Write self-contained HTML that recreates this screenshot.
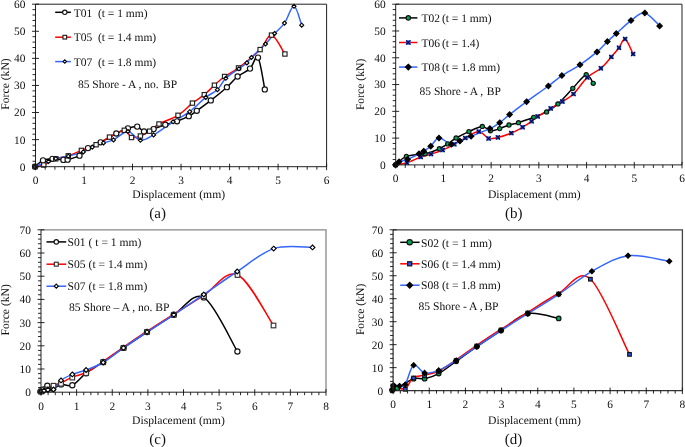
<!DOCTYPE html>
<html><head><meta charset="utf-8"><title>Force-displacement curves</title>
<style>html,body{margin:0;padding:0;background:#fff;width:685px;height:447px;overflow:hidden}svg{display:block;will-change:transform}text{font-family:"Liberation Serif",serif;text-rendering:geometricPrecision}</style>
</head><body>
<svg width="685" height="447" viewBox="0 0 685 447" font-family='"Liberation Serif", serif' fill="#111">
<rect width="685" height="447" fill="#fff"/>
<g>
<path d="M35.1,166.6 C36.42,165.57 40.1,161.7 43,160.4 C45.9,159.1 49.1,158.88 52.5,158.8 C55.9,158.72 60.88,159.75 63.4,159.9 C65.92,160.05 64.92,160.4 67.6,159.7 C70.28,159 76.1,157.63 79.5,155.7 C82.9,153.77 84.48,150.33 88,148.1 C91.52,145.87 95.88,144.73 100.6,142.3 C105.32,139.87 111.75,135.83 116.3,133.5 C120.85,131.17 124.42,129.45 127.9,128.3 C131.38,127.15 134.52,126.07 137.2,126.6 C139.88,127.13 141.27,131.08 144,131.5 C146.73,131.92 150.05,130.23 153.6,129.1 C157.15,127.97 161.4,126 165.3,124.7 C169.2,123.4 173.08,122.72 177,121.3 C180.92,119.88 185.5,117.95 188.8,116.2 C192.1,114.45 193.13,113.43 196.8,110.8 C200.47,108.17 205.78,104.33 210.8,100.4 C215.82,96.47 222.43,91.18 226.9,87.2 C231.37,83.22 233.75,79.6 237.6,76.5 C241.45,73.4 246.6,71.75 250,68.6 C253.4,65.45 255.53,54.13 258,57.6 C260.47,61.07 263.67,84.1 264.8,89.4" fill="none" stroke="#000000" stroke-width="1.5" stroke-linejoin="round" stroke-linecap="round"/>
<path d="M35.1,166.6 C36.55,166.33 40.35,166.3 43.8,165 C47.25,163.7 51.72,160.33 55.8,158.8 C59.88,157.27 64.03,157.2 68.3,155.8 C72.57,154.4 76.77,152.25 81.4,150.4 C86.03,148.55 91.42,146.92 96.1,144.7 C100.78,142.48 104.8,139.5 109.5,137.1 C114.2,134.7 120.63,130.23 124.3,130.3 C127.97,130.37 128.82,136.55 131.5,137.5 C134.18,138.45 137.38,137.05 140.4,136 C143.42,134.95 146.5,133.2 149.6,131.2 C152.7,129.2 154.27,126.65 159,124 C163.73,121.35 172.43,118.78 178,115.3 C183.57,111.82 188.02,106.53 192.4,103.1 C196.78,99.67 200.63,97.68 204.3,94.7 C207.97,91.72 211.02,88.23 214.4,85.2 C217.78,82.17 220.58,79.38 224.6,76.5 C228.62,73.62 232.58,72.38 238.5,67.9 C244.42,63.42 254.6,55.07 260.1,49.6 C265.6,44.13 267.37,34.37 271.5,35.1 C275.63,35.83 282.67,50.85 284.9,54" fill="none" stroke="#ff0000" stroke-width="1.5" stroke-linejoin="round" stroke-linecap="round"/>
<path d="M35.1,166.6 C37.33,165.73 45.05,162.73 48.5,161.4 C51.95,160.07 52.5,159.47 55.8,158.6 C59.1,157.73 63.72,157.32 68.3,156.2 C72.88,155.08 79.3,153.42 83.3,151.9 C87.3,150.38 88.93,148.6 92.3,147.1 C95.67,145.6 99.97,144.1 103.5,142.9 C107.03,141.7 109.43,141.8 113.5,139.9 C117.57,138 123.42,131.43 127.9,131.5 C132.38,131.57 136.12,139.73 140.4,140.3 C144.68,140.87 148.15,137.98 153.6,134.9 C159.05,131.82 167.08,125.67 173.1,121.8 C179.12,117.93 184.25,115.77 189.7,111.7 C195.15,107.63 201.18,101.07 205.8,97.4 C210.42,93.73 214.07,92.88 217.4,89.7 C220.73,86.52 222.22,81.78 225.8,78.3 C229.38,74.82 235.38,71.37 238.9,68.8 C242.42,66.23 244.82,64.78 246.9,62.9 C248.98,61.02 248.3,60.65 251.4,57.5 C254.5,54.35 261.63,48 265.5,44 C269.37,40 271.43,36.98 274.6,33.5 C277.77,30.02 281.27,27.63 284.5,23.1 C287.73,18.57 291.13,5.95 294,6.3 C296.87,6.65 300.42,22.05 301.7,25.2" fill="none" stroke="#3366ff" stroke-width="1.5" stroke-linejoin="round" stroke-linecap="round"/>
<circle cx="35.1" cy="166.6" r="2.6" fill="#fff" stroke="#111" stroke-width="1.15"/>
<circle cx="43" cy="160.4" r="2.6" fill="#fff" stroke="#111" stroke-width="1.15"/>
<circle cx="52.5" cy="158.8" r="2.6" fill="#fff" stroke="#111" stroke-width="1.15"/>
<circle cx="63.4" cy="159.9" r="2.6" fill="#fff" stroke="#111" stroke-width="1.15"/>
<circle cx="67.6" cy="159.7" r="2.6" fill="#fff" stroke="#111" stroke-width="1.15"/>
<circle cx="79.5" cy="155.7" r="2.6" fill="#fff" stroke="#111" stroke-width="1.15"/>
<circle cx="88" cy="148.1" r="2.6" fill="#fff" stroke="#111" stroke-width="1.15"/>
<circle cx="100.6" cy="142.3" r="2.6" fill="#fff" stroke="#111" stroke-width="1.15"/>
<circle cx="116.3" cy="133.5" r="2.6" fill="#fff" stroke="#111" stroke-width="1.15"/>
<circle cx="127.9" cy="128.3" r="2.6" fill="#fff" stroke="#111" stroke-width="1.15"/>
<circle cx="137.2" cy="126.6" r="2.6" fill="#fff" stroke="#111" stroke-width="1.15"/>
<circle cx="144" cy="131.5" r="2.6" fill="#fff" stroke="#111" stroke-width="1.15"/>
<circle cx="153.6" cy="129.1" r="2.6" fill="#fff" stroke="#111" stroke-width="1.15"/>
<circle cx="165.3" cy="124.7" r="2.6" fill="#fff" stroke="#111" stroke-width="1.15"/>
<circle cx="177" cy="121.3" r="2.6" fill="#fff" stroke="#111" stroke-width="1.15"/>
<circle cx="188.8" cy="116.2" r="2.6" fill="#fff" stroke="#111" stroke-width="1.15"/>
<circle cx="196.8" cy="110.8" r="2.6" fill="#fff" stroke="#111" stroke-width="1.15"/>
<circle cx="210.8" cy="100.4" r="2.6" fill="#fff" stroke="#111" stroke-width="1.15"/>
<circle cx="226.9" cy="87.2" r="2.6" fill="#fff" stroke="#111" stroke-width="1.15"/>
<circle cx="237.6" cy="76.5" r="2.6" fill="#fff" stroke="#111" stroke-width="1.15"/>
<circle cx="250" cy="68.6" r="2.6" fill="#fff" stroke="#111" stroke-width="1.15"/>
<circle cx="258" cy="57.6" r="2.6" fill="#fff" stroke="#111" stroke-width="1.15"/>
<circle cx="264.8" cy="89.4" r="2.6" fill="#fff" stroke="#111" stroke-width="1.15"/>
<rect x="32.95" y="164.45" width="4.3" height="4.3" fill="#fff" stroke="#222" stroke-width="1.15"/>
<rect x="41.65" y="162.85" width="4.3" height="4.3" fill="#fff" stroke="#222" stroke-width="1.15"/>
<rect x="53.65" y="156.65" width="4.3" height="4.3" fill="#fff" stroke="#222" stroke-width="1.15"/>
<rect x="66.15" y="153.65" width="4.3" height="4.3" fill="#fff" stroke="#222" stroke-width="1.15"/>
<rect x="79.25" y="148.25" width="4.3" height="4.3" fill="#fff" stroke="#222" stroke-width="1.15"/>
<rect x="93.95" y="142.55" width="4.3" height="4.3" fill="#fff" stroke="#222" stroke-width="1.15"/>
<rect x="107.35" y="134.95" width="4.3" height="4.3" fill="#fff" stroke="#222" stroke-width="1.15"/>
<rect x="122.15" y="128.15" width="4.3" height="4.3" fill="#fff" stroke="#222" stroke-width="1.15"/>
<rect x="129.35" y="135.35" width="4.3" height="4.3" fill="#fff" stroke="#222" stroke-width="1.15"/>
<rect x="138.25" y="133.85" width="4.3" height="4.3" fill="#fff" stroke="#222" stroke-width="1.15"/>
<rect x="147.45" y="129.05" width="4.3" height="4.3" fill="#fff" stroke="#222" stroke-width="1.15"/>
<rect x="156.85" y="121.85" width="4.3" height="4.3" fill="#fff" stroke="#222" stroke-width="1.15"/>
<rect x="175.85" y="113.15" width="4.3" height="4.3" fill="#fff" stroke="#222" stroke-width="1.15"/>
<rect x="190.25" y="100.95" width="4.3" height="4.3" fill="#fff" stroke="#222" stroke-width="1.15"/>
<rect x="202.15" y="92.55" width="4.3" height="4.3" fill="#fff" stroke="#222" stroke-width="1.15"/>
<rect x="212.25" y="83.05" width="4.3" height="4.3" fill="#fff" stroke="#222" stroke-width="1.15"/>
<rect x="222.45" y="74.35" width="4.3" height="4.3" fill="#fff" stroke="#222" stroke-width="1.15"/>
<rect x="236.35" y="65.75" width="4.3" height="4.3" fill="#fff" stroke="#222" stroke-width="1.15"/>
<rect x="257.95" y="47.45" width="4.3" height="4.3" fill="#fff" stroke="#222" stroke-width="1.15"/>
<rect x="269.35" y="32.95" width="4.3" height="4.3" fill="#fff" stroke="#222" stroke-width="1.15"/>
<rect x="282.75" y="51.85" width="4.3" height="4.3" fill="#fff" stroke="#222" stroke-width="1.15"/>
<path d="M35.1,164.6 L37.1,166.6 L35.1,168.6 L33.1,166.6 Z" fill="#fff" stroke="#000" stroke-width="1.15"/>
<path d="M48.5,159.4 L50.5,161.4 L48.5,163.4 L46.5,161.4 Z" fill="#fff" stroke="#000" stroke-width="1.15"/>
<path d="M55.8,156.6 L57.8,158.6 L55.8,160.6 L53.8,158.6 Z" fill="#fff" stroke="#000" stroke-width="1.15"/>
<path d="M68.3,154.2 L70.3,156.2 L68.3,158.2 L66.3,156.2 Z" fill="#fff" stroke="#000" stroke-width="1.15"/>
<path d="M83.3,149.9 L85.3,151.9 L83.3,153.9 L81.3,151.9 Z" fill="#fff" stroke="#000" stroke-width="1.15"/>
<path d="M92.3,145.1 L94.3,147.1 L92.3,149.1 L90.3,147.1 Z" fill="#fff" stroke="#000" stroke-width="1.15"/>
<path d="M103.5,140.9 L105.5,142.9 L103.5,144.9 L101.5,142.9 Z" fill="#fff" stroke="#000" stroke-width="1.15"/>
<path d="M113.5,137.9 L115.5,139.9 L113.5,141.9 L111.5,139.9 Z" fill="#fff" stroke="#000" stroke-width="1.15"/>
<path d="M127.9,129.5 L129.9,131.5 L127.9,133.5 L125.9,131.5 Z" fill="#fff" stroke="#000" stroke-width="1.15"/>
<path d="M140.4,138.3 L142.4,140.3 L140.4,142.3 L138.4,140.3 Z" fill="#fff" stroke="#000" stroke-width="1.15"/>
<path d="M153.6,132.9 L155.6,134.9 L153.6,136.9 L151.6,134.9 Z" fill="#fff" stroke="#000" stroke-width="1.15"/>
<path d="M173.1,119.8 L175.1,121.8 L173.1,123.8 L171.1,121.8 Z" fill="#fff" stroke="#000" stroke-width="1.15"/>
<path d="M189.7,109.7 L191.7,111.7 L189.7,113.7 L187.7,111.7 Z" fill="#fff" stroke="#000" stroke-width="1.15"/>
<path d="M205.8,95.4 L207.8,97.4 L205.8,99.4 L203.8,97.4 Z" fill="#fff" stroke="#000" stroke-width="1.15"/>
<path d="M217.4,87.7 L219.4,89.7 L217.4,91.7 L215.4,89.7 Z" fill="#fff" stroke="#000" stroke-width="1.15"/>
<path d="M225.8,76.3 L227.8,78.3 L225.8,80.3 L223.8,78.3 Z" fill="#fff" stroke="#000" stroke-width="1.15"/>
<path d="M238.9,66.8 L240.9,68.8 L238.9,70.8 L236.9,68.8 Z" fill="#fff" stroke="#000" stroke-width="1.15"/>
<path d="M246.9,60.9 L248.9,62.9 L246.9,64.9 L244.9,62.9 Z" fill="#fff" stroke="#000" stroke-width="1.15"/>
<path d="M251.4,55.5 L253.4,57.5 L251.4,59.5 L249.4,57.5 Z" fill="#fff" stroke="#000" stroke-width="1.15"/>
<path d="M265.5,42 L267.5,44 L265.5,46 L263.5,44 Z" fill="#fff" stroke="#000" stroke-width="1.15"/>
<path d="M274.6,31.5 L276.6,33.5 L274.6,35.5 L272.6,33.5 Z" fill="#fff" stroke="#000" stroke-width="1.15"/>
<path d="M284.5,21.1 L286.5,23.1 L284.5,25.1 L282.5,23.1 Z" fill="#fff" stroke="#000" stroke-width="1.15"/>
<path d="M294,4.3 L296,6.3 L294,8.3 L292,6.3 Z" fill="#fff" stroke="#000" stroke-width="1.15"/>
<path d="M301.7,23.2 L303.7,25.2 L301.7,27.2 L299.7,25.2 Z" fill="#fff" stroke="#000" stroke-width="1.15"/>
<path d="M35.5,4.2 H326.6 V166.7" fill="none" stroke="#222" stroke-width="1.0"/>
<path d="M35.5,4.2 V166.7 H326.6" fill="none" stroke="#222" stroke-width="1.0"/>
<path d="M32,166.7 H39 M32.5,161.28 H35.5 M32.5,155.87 H35.5 M32.5,150.45 H35.5 M32.5,145.03 H35.5 M32,139.62 H39 M32.5,134.2 H35.5 M32.5,128.78 H35.5 M32.5,123.37 H35.5 M32.5,117.95 H35.5 M32,112.53 H39 M32.5,107.12 H35.5 M32.5,101.7 H35.5 M32.5,96.28 H35.5 M32.5,90.87 H35.5 M32,85.45 H39 M32.5,80.03 H35.5 M32.5,74.62 H35.5 M32.5,69.2 H35.5 M32.5,63.78 H35.5 M32,58.37 H39 M32.5,52.95 H35.5 M32.5,47.53 H35.5 M32.5,42.12 H35.5 M32.5,36.7 H35.5 M32,31.28 H39 M32.5,25.87 H35.5 M32.5,20.45 H35.5 M32.5,15.03 H35.5 M32.5,9.62 H35.5 M32,4.2 H39 M35.5,163.7 V170.2 M45.2,166.7 V169.7 M54.91,166.7 V169.7 M64.61,166.7 V169.7 M74.31,166.7 V169.7 M84.02,163.7 V170.2 M93.72,166.7 V169.7 M103.42,166.7 V169.7 M113.13,166.7 V169.7 M122.83,166.7 V169.7 M132.53,163.7 V170.2 M142.24,166.7 V169.7 M151.94,166.7 V169.7 M161.64,166.7 V169.7 M171.35,166.7 V169.7 M181.05,163.7 V170.2 M190.75,166.7 V169.7 M200.46,166.7 V169.7 M210.16,166.7 V169.7 M219.86,166.7 V169.7 M229.57,163.7 V170.2 M239.27,166.7 V169.7 M248.97,166.7 V169.7 M258.68,166.7 V169.7 M268.38,166.7 V169.7 M278.08,163.7 V170.2 M287.79,166.7 V169.7 M297.49,166.7 V169.7 M307.19,166.7 V169.7 M316.9,166.7 V169.7 M326.6,163.7 V170.2" fill="none" stroke="#111" stroke-width="0.9"/>
<text x="25.5" y="170.6" text-anchor="end" font-size="11.4">0</text>
<text x="25.5" y="143.52" text-anchor="end" font-size="11.4">10</text>
<text x="25.5" y="116.43" text-anchor="end" font-size="11.4">20</text>
<text x="25.5" y="89.35" text-anchor="end" font-size="11.4">30</text>
<text x="25.5" y="62.27" text-anchor="end" font-size="11.4">40</text>
<text x="25.5" y="35.18" text-anchor="end" font-size="11.4">50</text>
<text x="25.5" y="8.1" text-anchor="end" font-size="11.4">60</text>
<text x="35.5" y="183.9" text-anchor="middle" font-size="11.4">0</text>
<text x="84.02" y="183.9" text-anchor="middle" font-size="11.4">1</text>
<text x="132.53" y="183.9" text-anchor="middle" font-size="11.4">2</text>
<text x="181.05" y="183.9" text-anchor="middle" font-size="11.4">3</text>
<text x="229.57" y="183.9" text-anchor="middle" font-size="11.4">4</text>
<text x="278.08" y="183.9" text-anchor="middle" font-size="11.4">5</text>
<text x="326.6" y="183.9" text-anchor="middle" font-size="11.4">6</text>
<path d="M55.2,12.3 H70.9" stroke="#000000" stroke-width="1.5"/>
<circle cx="64.8" cy="12.3" r="2.21" fill="#fff" stroke="#111" stroke-width="1.15"/>
<text x="73.7" y="16.5" font-size="11.5">T01  (t = 1 mm)</text>
<path d="M55.2,37.2 H70.9" stroke="#ff0000" stroke-width="1.5"/>
<rect x="62.97" y="35.37" width="3.65" height="3.65" fill="#fff" stroke="#222" stroke-width="1.15"/>
<text x="73.7" y="41.4" font-size="11.5">T05  (t = 1.4 mm)</text>
<path d="M55.2,61.6 H70.9" stroke="#3366ff" stroke-width="1.5"/>
<path d="M64.8,59.9 L66.5,61.6 L64.8,63.3 L63.1,61.6 Z" fill="#fff" stroke="#000" stroke-width="1.15"/>
<text x="73.7" y="65.8" font-size="11.5">T07  (t = 1.8 mm)</text>
<text x="77.9" y="87.5" font-size="11.5">85 Shore - A , no.<tspan dx="1.4"> BP</tspan></text>
<text x="178.7" y="198" text-anchor="middle" font-size="11.65">Displacement (mm)</text>
<text transform="translate(8.6,84) rotate(-90)" text-anchor="middle" font-size="11.65">Force (kN)</text>
<text x="157.6" y="218.4" text-anchor="middle" font-size="15.0">(a)</text>
</g>
<g>
<path d="M395.7,164.9 C397.48,163.48 401.5,158.25 406.4,156.4 C411.3,154.55 419.6,155.08 425.1,153.8 C430.6,152.52 435.63,150.35 439.4,148.7 C443.17,147.05 444.92,145.68 447.7,143.9 C450.48,142.12 452.57,140.05 456.1,138 C459.63,135.95 464.53,133.53 468.9,131.6 C473.27,129.67 478.72,126.53 482.3,126.4 C485.88,126.27 487.5,130.43 490.4,130.8 C493.3,131.17 496.6,129.57 499.7,128.6 C502.8,127.63 505.87,125.98 509,125 C512.13,124.02 514.38,123.98 518.5,122.7 C522.62,121.42 529.02,119.1 533.7,117.3 C538.38,115.5 542.57,114.13 546.6,111.9 C550.63,109.67 553.53,107.83 557.9,103.9 C562.27,99.97 568.08,93.17 572.8,88.3 C577.52,83.43 582.8,75.53 586.2,74.7 C589.6,73.87 592.03,81.87 593.2,83.3" fill="none" stroke="#000000" stroke-width="1.5" stroke-linejoin="round" stroke-linecap="round"/>
<path d="M395.7,164.9 C397.57,164.55 402.73,164.12 406.9,162.8 C411.07,161.48 416.68,158.45 420.7,157 C424.72,155.55 427.35,155.25 431,154.1 C434.65,152.95 438.72,151.73 442.6,150.1 C446.48,148.47 450.52,146.32 454.3,144.3 C458.08,142.28 461.22,140.12 465.3,138 C469.38,135.88 474.92,131.52 478.8,131.6 C482.68,131.68 485.42,137.53 488.6,138.5 C491.78,139.47 494.12,138.3 497.9,137.4 C501.68,136.5 507.18,134.8 511.3,133.1 C515.42,131.4 519.22,129.17 522.6,127.2 C525.98,125.23 529.08,123.1 531.6,121.3 C534.12,119.5 534.52,118.55 537.7,116.4 C540.88,114.25 546.58,110.87 550.7,108.4 C554.82,105.93 558.6,104 562.4,101.6 C566.2,99.2 569.35,98.03 573.5,94 C577.65,89.97 582.73,81.68 587.3,77.4 C591.87,73.12 596.9,71.72 600.9,68.3 C604.9,64.88 608.28,60.32 611.3,56.9 C614.32,53.48 616.7,50.78 619,47.8 C621.3,44.82 622.75,37.97 625.1,39 C627.45,40.03 631.77,51.5 633.1,54" fill="none" stroke="#ff0000" stroke-width="1.5" stroke-linejoin="round" stroke-linecap="round"/>
<path d="M395.6,164.7 C396.18,164.22 397.1,162.7 399.1,161.8 C401.1,160.9 404.28,160.63 407.6,159.3 C410.92,157.97 416.32,155.15 419,153.8 C421.68,152.45 421.75,152.47 423.7,151.2 C425.65,149.93 428.15,148.4 430.7,146.2 C433.25,144 435.55,138.32 439,138 C442.45,137.68 447.92,143.8 451.4,144.3 C454.88,144.8 456.62,142.33 459.9,141 C463.18,139.67 466.1,138.37 471.1,136.3 C476.1,134.23 485.13,130.87 489.9,128.6 C494.67,126.33 496.42,125.03 499.7,122.7 C502.98,120.37 505.12,118.1 509.6,114.6 C514.08,111.1 520.13,106.47 526.6,101.7 C533.07,96.93 542.52,90.35 548.4,86 C554.28,81.65 556.63,79.13 561.9,75.6 C567.17,72.07 574.15,68.75 580,64.8 C585.85,60.85 592.43,55.78 597,51.9 C601.57,48.02 604.18,44.57 607.4,41.5 C610.62,38.43 612.37,36.98 616.3,33.5 C620.23,30.02 626.25,24.03 631,20.6 C635.75,17.17 640.03,12.02 644.8,12.9 C649.57,13.78 657.13,23.73 659.6,25.9" fill="none" stroke="#3366ff" stroke-width="1.5" stroke-linejoin="round" stroke-linecap="round"/>
<circle cx="395.7" cy="164.9" r="2.1" fill="#00a550" stroke="#111" stroke-width="1.15"/>
<circle cx="406.4" cy="156.4" r="2.1" fill="#00a550" stroke="#111" stroke-width="1.15"/>
<circle cx="425.1" cy="153.8" r="2.1" fill="#00a550" stroke="#111" stroke-width="1.15"/>
<circle cx="439.4" cy="148.7" r="2.1" fill="#00a550" stroke="#111" stroke-width="1.15"/>
<circle cx="447.7" cy="143.9" r="2.1" fill="#00a550" stroke="#111" stroke-width="1.15"/>
<circle cx="456.1" cy="138" r="2.1" fill="#00a550" stroke="#111" stroke-width="1.15"/>
<circle cx="468.9" cy="131.6" r="2.1" fill="#00a550" stroke="#111" stroke-width="1.15"/>
<circle cx="482.3" cy="126.4" r="2.1" fill="#00a550" stroke="#111" stroke-width="1.15"/>
<circle cx="490.4" cy="130.8" r="2.1" fill="#00a550" stroke="#111" stroke-width="1.15"/>
<circle cx="499.7" cy="128.6" r="2.1" fill="#00a550" stroke="#111" stroke-width="1.15"/>
<circle cx="509" cy="125" r="2.1" fill="#00a550" stroke="#111" stroke-width="1.15"/>
<circle cx="518.5" cy="122.7" r="2.1" fill="#00a550" stroke="#111" stroke-width="1.15"/>
<circle cx="533.7" cy="117.3" r="2.1" fill="#00a550" stroke="#111" stroke-width="1.15"/>
<circle cx="546.6" cy="111.9" r="2.1" fill="#00a550" stroke="#111" stroke-width="1.15"/>
<circle cx="557.9" cy="103.9" r="2.1" fill="#00a550" stroke="#111" stroke-width="1.15"/>
<circle cx="572.8" cy="88.3" r="2.1" fill="#00a550" stroke="#111" stroke-width="1.15"/>
<circle cx="586.2" cy="74.7" r="2.1" fill="#00a550" stroke="#111" stroke-width="1.15"/>
<circle cx="593.2" cy="83.3" r="2.1" fill="#00a550" stroke="#111" stroke-width="1.15"/>
<rect x="393.6" y="162.8" width="4.2" height="4.2" fill="#2255ee"/><path d="M393.6,162.8 L397.8,167 M393.6,167 L397.8,162.8" stroke="#0a0a40" stroke-width="1.15"/>
<rect x="404.8" y="160.7" width="4.2" height="4.2" fill="#2255ee"/><path d="M404.8,160.7 L409,164.9 M404.8,164.9 L409,160.7" stroke="#0a0a40" stroke-width="1.15"/>
<rect x="418.6" y="154.9" width="4.2" height="4.2" fill="#2255ee"/><path d="M418.6,154.9 L422.8,159.1 M418.6,159.1 L422.8,154.9" stroke="#0a0a40" stroke-width="1.15"/>
<rect x="428.9" y="152" width="4.2" height="4.2" fill="#2255ee"/><path d="M428.9,152 L433.1,156.2 M428.9,156.2 L433.1,152" stroke="#0a0a40" stroke-width="1.15"/>
<rect x="440.5" y="148" width="4.2" height="4.2" fill="#2255ee"/><path d="M440.5,148 L444.7,152.2 M440.5,152.2 L444.7,148" stroke="#0a0a40" stroke-width="1.15"/>
<rect x="452.2" y="142.2" width="4.2" height="4.2" fill="#2255ee"/><path d="M452.2,142.2 L456.4,146.4 M452.2,146.4 L456.4,142.2" stroke="#0a0a40" stroke-width="1.15"/>
<rect x="463.2" y="135.9" width="4.2" height="4.2" fill="#2255ee"/><path d="M463.2,135.9 L467.4,140.1 M463.2,140.1 L467.4,135.9" stroke="#0a0a40" stroke-width="1.15"/>
<rect x="476.7" y="129.5" width="4.2" height="4.2" fill="#2255ee"/><path d="M476.7,129.5 L480.9,133.7 M476.7,133.7 L480.9,129.5" stroke="#0a0a40" stroke-width="1.15"/>
<rect x="486.5" y="136.4" width="4.2" height="4.2" fill="#2255ee"/><path d="M486.5,136.4 L490.7,140.6 M486.5,140.6 L490.7,136.4" stroke="#0a0a40" stroke-width="1.15"/>
<rect x="495.8" y="135.3" width="4.2" height="4.2" fill="#2255ee"/><path d="M495.8,135.3 L500,139.5 M495.8,139.5 L500,135.3" stroke="#0a0a40" stroke-width="1.15"/>
<rect x="509.2" y="131" width="4.2" height="4.2" fill="#2255ee"/><path d="M509.2,131 L513.4,135.2 M509.2,135.2 L513.4,131" stroke="#0a0a40" stroke-width="1.15"/>
<rect x="520.5" y="125.1" width="4.2" height="4.2" fill="#2255ee"/><path d="M520.5,125.1 L524.7,129.3 M520.5,129.3 L524.7,125.1" stroke="#0a0a40" stroke-width="1.15"/>
<rect x="529.5" y="119.2" width="4.2" height="4.2" fill="#2255ee"/><path d="M529.5,119.2 L533.7,123.4 M529.5,123.4 L533.7,119.2" stroke="#0a0a40" stroke-width="1.15"/>
<rect x="535.6" y="114.3" width="4.2" height="4.2" fill="#2255ee"/><path d="M535.6,114.3 L539.8,118.5 M535.6,118.5 L539.8,114.3" stroke="#0a0a40" stroke-width="1.15"/>
<rect x="548.6" y="106.3" width="4.2" height="4.2" fill="#2255ee"/><path d="M548.6,106.3 L552.8,110.5 M548.6,110.5 L552.8,106.3" stroke="#0a0a40" stroke-width="1.15"/>
<rect x="560.3" y="99.5" width="4.2" height="4.2" fill="#2255ee"/><path d="M560.3,99.5 L564.5,103.7 M560.3,103.7 L564.5,99.5" stroke="#0a0a40" stroke-width="1.15"/>
<rect x="571.4" y="91.9" width="4.2" height="4.2" fill="#2255ee"/><path d="M571.4,91.9 L575.6,96.1 M571.4,96.1 L575.6,91.9" stroke="#0a0a40" stroke-width="1.15"/>
<rect x="585.2" y="75.3" width="4.2" height="4.2" fill="#2255ee"/><path d="M585.2,75.3 L589.4,79.5 M585.2,79.5 L589.4,75.3" stroke="#0a0a40" stroke-width="1.15"/>
<rect x="598.8" y="66.2" width="4.2" height="4.2" fill="#2255ee"/><path d="M598.8,66.2 L603,70.4 M598.8,70.4 L603,66.2" stroke="#0a0a40" stroke-width="1.15"/>
<rect x="609.2" y="54.8" width="4.2" height="4.2" fill="#2255ee"/><path d="M609.2,54.8 L613.4,59 M609.2,59 L613.4,54.8" stroke="#0a0a40" stroke-width="1.15"/>
<rect x="616.9" y="45.7" width="4.2" height="4.2" fill="#2255ee"/><path d="M616.9,45.7 L621.1,49.9 M616.9,49.9 L621.1,45.7" stroke="#0a0a40" stroke-width="1.15"/>
<rect x="623" y="36.9" width="4.2" height="4.2" fill="#2255ee"/><path d="M623,36.9 L627.2,41.1 M623,41.1 L627.2,36.9" stroke="#0a0a40" stroke-width="1.15"/>
<rect x="631" y="51.9" width="4.2" height="4.2" fill="#2255ee"/><path d="M631,51.9 L635.2,56.1 M631,56.1 L635.2,51.9" stroke="#0a0a40" stroke-width="1.15"/>
<path d="M395.6,162 L398.3,164.7 L395.6,167.4 L392.9,164.7 Z" fill="#000" stroke="#000" stroke-width="1.15"/>
<path d="M399.1,159.1 L401.8,161.8 L399.1,164.5 L396.4,161.8 Z" fill="#000" stroke="#000" stroke-width="1.15"/>
<path d="M407.6,156.6 L410.3,159.3 L407.6,162 L404.9,159.3 Z" fill="#000" stroke="#000" stroke-width="1.15"/>
<path d="M419,151.1 L421.7,153.8 L419,156.5 L416.3,153.8 Z" fill="#000" stroke="#000" stroke-width="1.15"/>
<path d="M423.7,148.5 L426.4,151.2 L423.7,153.9 L421,151.2 Z" fill="#000" stroke="#000" stroke-width="1.15"/>
<path d="M430.7,143.5 L433.4,146.2 L430.7,148.9 L428,146.2 Z" fill="#000" stroke="#000" stroke-width="1.15"/>
<path d="M439,135.3 L441.7,138 L439,140.7 L436.3,138 Z" fill="#000" stroke="#000" stroke-width="1.15"/>
<path d="M451.4,141.6 L454.1,144.3 L451.4,147 L448.7,144.3 Z" fill="#000" stroke="#000" stroke-width="1.15"/>
<path d="M459.9,138.3 L462.6,141 L459.9,143.7 L457.2,141 Z" fill="#000" stroke="#000" stroke-width="1.15"/>
<path d="M471.1,133.6 L473.8,136.3 L471.1,139 L468.4,136.3 Z" fill="#000" stroke="#000" stroke-width="1.15"/>
<path d="M489.9,125.9 L492.6,128.6 L489.9,131.3 L487.2,128.6 Z" fill="#000" stroke="#000" stroke-width="1.15"/>
<path d="M499.7,120 L502.4,122.7 L499.7,125.4 L497,122.7 Z" fill="#000" stroke="#000" stroke-width="1.15"/>
<path d="M509.6,111.9 L512.3,114.6 L509.6,117.3 L506.9,114.6 Z" fill="#000" stroke="#000" stroke-width="1.15"/>
<path d="M526.6,99 L529.3,101.7 L526.6,104.4 L523.9,101.7 Z" fill="#000" stroke="#000" stroke-width="1.15"/>
<path d="M548.4,83.3 L551.1,86 L548.4,88.7 L545.7,86 Z" fill="#000" stroke="#000" stroke-width="1.15"/>
<path d="M561.9,72.9 L564.6,75.6 L561.9,78.3 L559.2,75.6 Z" fill="#000" stroke="#000" stroke-width="1.15"/>
<path d="M580,62.1 L582.7,64.8 L580,67.5 L577.3,64.8 Z" fill="#000" stroke="#000" stroke-width="1.15"/>
<path d="M597,49.2 L599.7,51.9 L597,54.6 L594.3,51.9 Z" fill="#000" stroke="#000" stroke-width="1.15"/>
<path d="M607.4,38.8 L610.1,41.5 L607.4,44.2 L604.7,41.5 Z" fill="#000" stroke="#000" stroke-width="1.15"/>
<path d="M616.3,30.8 L619,33.5 L616.3,36.2 L613.6,33.5 Z" fill="#000" stroke="#000" stroke-width="1.15"/>
<path d="M631,17.9 L633.7,20.6 L631,23.3 L628.3,20.6 Z" fill="#000" stroke="#000" stroke-width="1.15"/>
<path d="M644.8,10.2 L647.5,12.9 L644.8,15.6 L642.1,12.9 Z" fill="#000" stroke="#000" stroke-width="1.15"/>
<path d="M659.6,23.2 L662.3,25.9 L659.6,28.6 L656.9,25.9 Z" fill="#000" stroke="#000" stroke-width="1.15"/>
<path d="M395.7,4.2 H682 V164.9" fill="none" stroke="#222" stroke-width="1.0"/>
<path d="M395.7,4.2 V164.9 H682" fill="none" stroke="#222" stroke-width="1.0"/>
<path d="M392.2,164.9 H399.2 M392.7,159.54 H395.7 M392.7,154.19 H395.7 M392.7,148.83 H395.7 M392.7,143.47 H395.7 M392.2,138.12 H399.2 M392.7,132.76 H395.7 M392.7,127.4 H395.7 M392.7,122.05 H395.7 M392.7,116.69 H395.7 M392.2,111.33 H399.2 M392.7,105.98 H395.7 M392.7,100.62 H395.7 M392.7,95.26 H395.7 M392.7,89.91 H395.7 M392.2,84.55 H399.2 M392.7,79.19 H395.7 M392.7,73.84 H395.7 M392.7,68.48 H395.7 M392.7,63.12 H395.7 M392.2,57.77 H399.2 M392.7,52.41 H395.7 M392.7,47.05 H395.7 M392.7,41.7 H395.7 M392.7,36.34 H395.7 M392.2,30.98 H399.2 M392.7,25.63 H395.7 M392.7,20.27 H395.7 M392.7,14.91 H395.7 M392.7,9.56 H395.7 M392.2,4.2 H399.2 M395.7,161.9 V168.4 M405.24,164.9 V167.9 M414.79,164.9 V167.9 M424.33,164.9 V167.9 M433.87,164.9 V167.9 M443.42,161.9 V168.4 M452.96,164.9 V167.9 M462.5,164.9 V167.9 M472.05,164.9 V167.9 M481.59,164.9 V167.9 M491.13,161.9 V168.4 M500.68,164.9 V167.9 M510.22,164.9 V167.9 M519.76,164.9 V167.9 M529.31,164.9 V167.9 M538.85,161.9 V168.4 M548.39,164.9 V167.9 M557.94,164.9 V167.9 M567.48,164.9 V167.9 M577.02,164.9 V167.9 M586.57,161.9 V168.4 M596.11,164.9 V167.9 M605.65,164.9 V167.9 M615.2,164.9 V167.9 M624.74,164.9 V167.9 M634.28,161.9 V168.4 M643.83,164.9 V167.9 M653.37,164.9 V167.9 M662.91,164.9 V167.9 M672.46,164.9 V167.9 M682,161.9 V168.4" fill="none" stroke="#111" stroke-width="0.9"/>
<text x="385.7" y="168.8" text-anchor="end" font-size="11.4">0</text>
<text x="385.7" y="142.02" text-anchor="end" font-size="11.4">10</text>
<text x="385.7" y="115.23" text-anchor="end" font-size="11.4">20</text>
<text x="385.7" y="88.45" text-anchor="end" font-size="11.4">30</text>
<text x="385.7" y="61.67" text-anchor="end" font-size="11.4">40</text>
<text x="385.7" y="34.88" text-anchor="end" font-size="11.4">50</text>
<text x="385.7" y="8.1" text-anchor="end" font-size="11.4">60</text>
<text x="395.7" y="182.1" text-anchor="middle" font-size="11.4">0</text>
<text x="443.42" y="182.1" text-anchor="middle" font-size="11.4">1</text>
<text x="491.13" y="182.1" text-anchor="middle" font-size="11.4">2</text>
<text x="538.85" y="182.1" text-anchor="middle" font-size="11.4">3</text>
<text x="586.57" y="182.1" text-anchor="middle" font-size="11.4">4</text>
<text x="634.28" y="182.1" text-anchor="middle" font-size="11.4">5</text>
<text x="682" y="182.1" text-anchor="middle" font-size="11.4">6</text>
<path d="M399,17.9 H417.4" stroke="#000000" stroke-width="1.5"/>
<circle cx="408.3" cy="17.9" r="2.21" fill="#00a550" stroke="#111" stroke-width="1.15"/>
<text x="421.4" y="22.1" font-size="11.5">T02<tspan dx="-0.9"> (t = 1 mm)</tspan></text>
<path d="M399,42.5 H417.4" stroke="#ff0000" stroke-width="1.5"/>
<rect x="406.1" y="40.3" width="4.41" height="4.41" fill="#2255ee"/><path d="M406.1,40.3 L410.5,44.7 M406.1,44.7 L410.5,40.3" stroke="#0a0a40" stroke-width="1.15"/>
<text x="421.4" y="46.7" font-size="11.5">T06<tspan dx="-0.9"> (t = 1.4)</tspan></text>
<path d="M399,67.1 H417.4" stroke="#3366ff" stroke-width="1.5"/>
<path d="M408.3,64.27 L411.13,67.1 L408.3,69.93 L405.47,67.1 Z" fill="#000" stroke="#000" stroke-width="1.15"/>
<text x="421.4" y="71.3" font-size="11.5">T08<tspan dx="-0.9"> (t = 1.8 mm)</tspan></text>
<text x="419.6" y="94.9" font-size="11.5">85 Shore - A ,<tspan dx="0.8"> BP</tspan></text>
<text x="534.3" y="198" text-anchor="middle" font-size="11.65">Displacement (mm)</text>
<text transform="translate(364.3,84.4) rotate(-90)" text-anchor="middle" font-size="11.65">Force (kN)</text>
<text x="513.7" y="218.4" text-anchor="middle" font-size="15.0">(b)</text>
</g>
<g>
<path d="M40.4,391.6 C40.92,391.25 42.35,390.48 43.5,389.5 C44.65,388.52 45.73,385.82 47.3,385.7 C48.87,385.58 50.62,389.02 52.9,388.8 C55.18,388.58 57.77,384.98 61,384.4 C64.23,383.82 68.12,387.17 72.3,385.3 C76.48,383.43 80.95,377.1 86.1,373.2 C91.25,369.3 96.97,366.12 103.2,361.9 C109.43,357.68 116.2,352.88 123.5,347.9 C130.8,342.92 138.62,337.52 147,332 C155.38,326.48 164.33,320.57 173.8,314.8 C183.27,309.03 193.2,291.28 203.8,297.4 C214.4,303.52 231.8,342.48 237.4,351.5" fill="none" stroke="#000000" stroke-width="1.5" stroke-linejoin="round" stroke-linecap="round"/>
<path d="M41,391 C41.17,390.77 40.97,389.93 42,389.6 C43.03,389.27 45.33,389.73 47.2,389 C49.07,388.27 50.95,386.15 53.2,385.2 C55.45,384.25 57.57,384.65 60.7,383.3 C63.83,381.95 67.82,378.87 72,377.1 C76.18,375.33 80.65,375.25 85.8,372.7 C90.95,370.15 96.67,366.02 102.9,361.8 C109.13,357.58 115.9,352.45 123.2,347.4 C130.5,342.35 138.32,337.02 146.7,331.5 C155.08,325.98 164.03,320.27 173.5,314.3 C182.97,308.33 192.88,302.33 203.5,295.7 C214.12,289.07 225.58,269.62 237.2,274.5 C248.82,279.38 267.2,316.58 273.2,325" fill="none" stroke="#ff0000" stroke-width="1.5" stroke-linejoin="round" stroke-linecap="round"/>
<path d="M41.3,391.3 C41.77,391.2 43,390.95 44.1,390.7 C45.2,390.45 46.33,390 47.9,389.8 C49.47,389.6 51.32,391.07 53.5,389.5 C55.68,387.93 57.87,382.92 61,380.4 C64.13,377.88 68.12,376.13 72.3,374.4 C76.48,372.67 80.95,371.98 86.1,370 C91.25,368.02 96.97,366.18 103.2,362.5 C109.43,358.82 116.2,352.98 123.5,347.9 C130.8,342.82 138.62,337.52 147,332 C155.38,326.48 164.33,321.05 173.8,314.8 C183.27,308.55 193.23,301.72 203.8,294.5 C214.37,287.28 225.55,279.15 237.2,271.5 C248.85,263.85 261.15,252.62 273.7,248.6 C286.25,244.58 306.03,247.6 312.5,247.4" fill="none" stroke="#3366ff" stroke-width="1.5" stroke-linejoin="round" stroke-linecap="round"/>
<circle cx="40.4" cy="391.6" r="2.6" fill="#fff" stroke="#111" stroke-width="1.15"/>
<circle cx="43.5" cy="389.5" r="2.6" fill="#fff" stroke="#111" stroke-width="1.15"/>
<circle cx="47.3" cy="385.7" r="2.6" fill="#fff" stroke="#111" stroke-width="1.15"/>
<circle cx="52.9" cy="388.8" r="2.6" fill="#fff" stroke="#111" stroke-width="1.15"/>
<circle cx="61" cy="384.4" r="2.6" fill="#fff" stroke="#111" stroke-width="1.15"/>
<circle cx="72.3" cy="385.3" r="2.6" fill="#fff" stroke="#111" stroke-width="1.15"/>
<circle cx="86.1" cy="373.2" r="2.6" fill="#fff" stroke="#111" stroke-width="1.15"/>
<circle cx="103.2" cy="361.9" r="2.6" fill="#fff" stroke="#111" stroke-width="1.15"/>
<circle cx="123.5" cy="347.9" r="2.6" fill="#fff" stroke="#111" stroke-width="1.15"/>
<circle cx="147" cy="332" r="2.6" fill="#fff" stroke="#111" stroke-width="1.15"/>
<circle cx="173.8" cy="314.8" r="2.6" fill="#fff" stroke="#111" stroke-width="1.15"/>
<circle cx="203.8" cy="297.4" r="2.6" fill="#fff" stroke="#111" stroke-width="1.15"/>
<circle cx="237.4" cy="351.5" r="2.6" fill="#fff" stroke="#111" stroke-width="1.15"/>
<rect x="39" y="389.2" width="4.6" height="4.6" fill="#fff" stroke="#333" stroke-width="1.15"/>
<rect x="40" y="387.8" width="4.6" height="4.6" fill="#fff" stroke="#333" stroke-width="1.15"/>
<rect x="45.2" y="387.2" width="4.6" height="4.6" fill="#fff" stroke="#333" stroke-width="1.15"/>
<rect x="51.2" y="383.4" width="4.6" height="4.6" fill="#fff" stroke="#333" stroke-width="1.15"/>
<rect x="58.7" y="381.5" width="4.6" height="4.6" fill="#fff" stroke="#333" stroke-width="1.15"/>
<rect x="70" y="375.3" width="4.6" height="4.6" fill="#fff" stroke="#333" stroke-width="1.15"/>
<rect x="83.8" y="370.9" width="4.6" height="4.6" fill="#fff" stroke="#333" stroke-width="1.15"/>
<rect x="100.9" y="360" width="4.6" height="4.6" fill="#fff" stroke="#333" stroke-width="1.15"/>
<rect x="121.2" y="345.6" width="4.6" height="4.6" fill="#fff" stroke="#333" stroke-width="1.15"/>
<rect x="144.7" y="329.7" width="4.6" height="4.6" fill="#fff" stroke="#333" stroke-width="1.15"/>
<rect x="171.5" y="312.5" width="4.6" height="4.6" fill="#fff" stroke="#333" stroke-width="1.15"/>
<rect x="201.5" y="293.9" width="4.6" height="4.6" fill="#fff" stroke="#333" stroke-width="1.15"/>
<rect x="235.2" y="272.7" width="4.6" height="4.6" fill="#fff" stroke="#333" stroke-width="1.15"/>
<rect x="271.2" y="323.2" width="4.6" height="4.6" fill="#fff" stroke="#333" stroke-width="1.15"/>
<path d="M41.3,388.9 L43.7,391.3 L41.3,393.7 L38.9,391.3 Z" fill="#fff" stroke="#000" stroke-width="1.15"/>
<path d="M44.1,388.3 L46.5,390.7 L44.1,393.1 L41.7,390.7 Z" fill="#fff" stroke="#000" stroke-width="1.15"/>
<path d="M47.9,387.4 L50.3,389.8 L47.9,392.2 L45.5,389.8 Z" fill="#fff" stroke="#000" stroke-width="1.15"/>
<path d="M53.5,387.1 L55.9,389.5 L53.5,391.9 L51.1,389.5 Z" fill="#fff" stroke="#000" stroke-width="1.15"/>
<path d="M61,378 L63.4,380.4 L61,382.8 L58.6,380.4 Z" fill="#fff" stroke="#000" stroke-width="1.15"/>
<path d="M72.3,372 L74.7,374.4 L72.3,376.8 L69.9,374.4 Z" fill="#fff" stroke="#000" stroke-width="1.15"/>
<path d="M86.1,367.6 L88.5,370 L86.1,372.4 L83.7,370 Z" fill="#fff" stroke="#000" stroke-width="1.15"/>
<path d="M103.2,360.1 L105.6,362.5 L103.2,364.9 L100.8,362.5 Z" fill="#fff" stroke="#000" stroke-width="1.15"/>
<path d="M123.5,345.5 L125.9,347.9 L123.5,350.3 L121.1,347.9 Z" fill="#fff" stroke="#000" stroke-width="1.15"/>
<path d="M147,329.6 L149.4,332 L147,334.4 L144.6,332 Z" fill="#fff" stroke="#000" stroke-width="1.15"/>
<path d="M173.8,312.4 L176.2,314.8 L173.8,317.2 L171.4,314.8 Z" fill="#fff" stroke="#000" stroke-width="1.15"/>
<path d="M203.8,292.1 L206.2,294.5 L203.8,296.9 L201.4,294.5 Z" fill="#fff" stroke="#000" stroke-width="1.15"/>
<path d="M237.2,269.1 L239.6,271.5 L237.2,273.9 L234.8,271.5 Z" fill="#fff" stroke="#000" stroke-width="1.15"/>
<path d="M273.7,246.2 L276.1,248.6 L273.7,251 L271.3,248.6 Z" fill="#fff" stroke="#000" stroke-width="1.15"/>
<path d="M312.5,245 L314.9,247.4 L312.5,249.8 L310.1,247.4 Z" fill="#fff" stroke="#000" stroke-width="1.15"/>
<path d="M41,229.8 H326 V392.2" fill="none" stroke="#888" stroke-width="1.3"/>
<path d="M41,229.8 V392.2 H326" fill="none" stroke="#222" stroke-width="1.0"/>
<path d="M37.5,392.2 H44.5 M38,387.56 H41 M38,382.92 H41 M38,378.28 H41 M38,373.64 H41 M37.5,369 H44.5 M38,364.36 H41 M38,359.72 H41 M38,355.08 H41 M38,350.44 H41 M37.5,345.8 H44.5 M38,341.16 H41 M38,336.52 H41 M38,331.88 H41 M38,327.24 H41 M37.5,322.6 H44.5 M38,317.96 H41 M38,313.32 H41 M38,308.68 H41 M38,304.04 H41 M37.5,299.4 H44.5 M38,294.76 H41 M38,290.12 H41 M38,285.48 H41 M38,280.84 H41 M37.5,276.2 H44.5 M38,271.56 H41 M38,266.92 H41 M38,262.28 H41 M38,257.64 H41 M37.5,253 H44.5 M38,248.36 H41 M38,243.72 H41 M38,239.08 H41 M38,234.44 H41 M37.5,229.8 H44.5 M41,389.2 V395.7 M48.12,392.2 V395.2 M55.25,392.2 V395.2 M62.38,392.2 V395.2 M69.5,392.2 V395.2 M76.62,389.2 V395.7 M83.75,392.2 V395.2 M90.88,392.2 V395.2 M98,392.2 V395.2 M105.12,392.2 V395.2 M112.25,389.2 V395.7 M119.38,392.2 V395.2 M126.5,392.2 V395.2 M133.62,392.2 V395.2 M140.75,392.2 V395.2 M147.88,389.2 V395.7 M155,392.2 V395.2 M162.12,392.2 V395.2 M169.25,392.2 V395.2 M176.38,392.2 V395.2 M183.5,389.2 V395.7 M190.62,392.2 V395.2 M197.75,392.2 V395.2 M204.88,392.2 V395.2 M212,392.2 V395.2 M219.12,389.2 V395.7 M226.25,392.2 V395.2 M233.38,392.2 V395.2 M240.5,392.2 V395.2 M247.63,392.2 V395.2 M254.75,389.2 V395.7 M261.88,392.2 V395.2 M269,392.2 V395.2 M276.12,392.2 V395.2 M283.25,392.2 V395.2 M290.38,389.2 V395.7 M297.5,392.2 V395.2 M304.62,392.2 V395.2 M311.75,392.2 V395.2 M318.88,392.2 V395.2 M326,389.2 V395.7" fill="none" stroke="#111" stroke-width="0.9"/>
<text x="31" y="396.1" text-anchor="end" font-size="11.4">0</text>
<text x="31" y="372.9" text-anchor="end" font-size="11.4">10</text>
<text x="31" y="349.7" text-anchor="end" font-size="11.4">20</text>
<text x="31" y="326.5" text-anchor="end" font-size="11.4">30</text>
<text x="31" y="303.3" text-anchor="end" font-size="11.4">40</text>
<text x="31" y="280.1" text-anchor="end" font-size="11.4">50</text>
<text x="31" y="256.9" text-anchor="end" font-size="11.4">60</text>
<text x="31" y="233.7" text-anchor="end" font-size="11.4">70</text>
<text x="41" y="410.3" text-anchor="middle" font-size="11.4">0</text>
<text x="76.62" y="410.3" text-anchor="middle" font-size="11.4">1</text>
<text x="112.25" y="410.3" text-anchor="middle" font-size="11.4">2</text>
<text x="147.88" y="410.3" text-anchor="middle" font-size="11.4">3</text>
<text x="183.5" y="410.3" text-anchor="middle" font-size="11.4">4</text>
<text x="219.12" y="410.3" text-anchor="middle" font-size="11.4">5</text>
<text x="254.75" y="410.3" text-anchor="middle" font-size="11.4">6</text>
<text x="290.38" y="410.3" text-anchor="middle" font-size="11.4">7</text>
<text x="326" y="410.3" text-anchor="middle" font-size="11.4">8</text>
<path d="M46.5,241.9 H66.2" stroke="#000000" stroke-width="1.5"/>
<circle cx="56.3" cy="241.9" r="2.21" fill="#fff" stroke="#111" stroke-width="1.15"/>
<text x="67.6" y="246.1" font-size="11.6">S01 ( t = 1 mm)</text>
<path d="M46.5,264.2 H66.2" stroke="#ff0000" stroke-width="1.5"/>
<rect x="54.34" y="262.25" width="3.91" height="3.91" fill="#fff" stroke="#333" stroke-width="1.15"/>
<text x="67.6" y="268.4" font-size="11.6">S05 (t = 1.4 mm)</text>
<path d="M46.5,286.2 H66.2" stroke="#3366ff" stroke-width="1.5"/>
<path d="M56.3,284.16 L58.34,286.2 L56.3,288.24 L54.26,286.2 Z" fill="#fff" stroke="#000" stroke-width="1.15"/>
<text x="67.6" y="290.4" font-size="11.6">S07 (t = 1.8 mm)</text>
<text x="69" y="311.3" font-size="11.6">85 Shore – A , no. BP</text>
<text x="178.4" y="424.1" text-anchor="middle" font-size="11.65">Displacement (mm)</text>
<text transform="translate(9,309.8) rotate(-90)" text-anchor="middle" font-size="11.65">Force (kN)</text>
<text x="157.6" y="444" text-anchor="middle" font-size="15.0">(c)</text>
</g>
<g>
<path d="M392.2,390.4 C393.05,390.03 393.73,390.15 397.3,388.2 C400.87,386.25 409.05,380.28 413.6,378.7 C418.15,377.12 420.42,379.55 424.6,378.7 C428.78,377.85 433.43,376.5 438.7,373.6 C443.97,370.7 449.85,365.8 456.2,361.3 C462.55,356.8 469.33,351.73 476.8,346.6 C484.27,341.47 492.5,336 501,330.5 C509.5,325 518.18,315.62 527.8,313.6 C537.42,311.58 553.55,317.6 558.7,318.4" fill="none" stroke="#000000" stroke-width="1.5" stroke-linejoin="round" stroke-linecap="round"/>
<path d="M392.6,385.5 C394.67,386.05 401.55,390.13 405,388.8 C408.45,387.47 410.08,379.75 413.3,377.5 C416.52,375.25 420.12,376.38 424.3,375.3 C428.48,374.22 433.13,373.55 438.4,371 C443.67,368.45 449.55,364.25 455.9,360 C462.25,355.75 469.03,350.58 476.5,345.5 C483.97,340.42 492.2,335 500.7,329.5 C509.2,324 517.88,318.5 527.5,312.5 C537.12,306.5 547.97,299.13 558.4,293.5 C568.83,287.87 578.3,268.63 590.1,278.7 C601.9,288.77 622.68,341.37 629.2,353.9" fill="none" stroke="#ff0000" stroke-width="1.5" stroke-linejoin="round" stroke-linecap="round"/>
<path d="M392.2,389.6 C392.43,388.88 392.38,385.9 393.6,385.3 C394.82,384.7 397.55,386.13 399.5,386 C401.45,385.87 402.95,387.97 405.3,384.5 C407.65,381.03 410.38,367.13 413.6,365.2 C416.82,363.27 420.42,372.03 424.6,372.9 C428.78,373.77 433.43,372.47 438.7,370.4 C443.97,368.33 449.85,364.47 456.2,360.5 C462.55,356.53 469.33,351.6 476.8,346.6 C484.27,341.6 492.5,336 501,330.5 C509.5,325 518.18,319.63 527.8,313.6 C537.42,307.57 548.02,301.35 558.7,294.3 C569.38,287.25 580.35,277.73 591.9,271.3 C603.45,264.87 615.1,257.37 628,255.7 C640.9,254.03 662.42,260.37 669.3,261.3" fill="none" stroke="#3366ff" stroke-width="1.5" stroke-linejoin="round" stroke-linecap="round"/>
<circle cx="392.2" cy="390.4" r="2.3" fill="#00a550" stroke="#111" stroke-width="1.15"/>
<circle cx="397.3" cy="388.2" r="2.3" fill="#00a550" stroke="#111" stroke-width="1.15"/>
<circle cx="413.6" cy="378.7" r="2.3" fill="#00a550" stroke="#111" stroke-width="1.15"/>
<circle cx="424.6" cy="378.7" r="2.3" fill="#00a550" stroke="#111" stroke-width="1.15"/>
<circle cx="438.7" cy="373.6" r="2.3" fill="#00a550" stroke="#111" stroke-width="1.15"/>
<circle cx="456.2" cy="361.3" r="2.3" fill="#00a550" stroke="#111" stroke-width="1.15"/>
<circle cx="476.8" cy="346.6" r="2.3" fill="#00a550" stroke="#111" stroke-width="1.15"/>
<circle cx="501" cy="330.5" r="2.3" fill="#00a550" stroke="#111" stroke-width="1.15"/>
<circle cx="527.8" cy="313.6" r="2.3" fill="#00a550" stroke="#111" stroke-width="1.15"/>
<circle cx="558.7" cy="318.4" r="2.3" fill="#00a550" stroke="#111" stroke-width="1.15"/>
<rect x="391.1" y="384.2" width="3.6" height="3.6" fill="#2255ee" stroke="#111" stroke-width="1.15"/>
<rect x="403.5" y="387.5" width="3.6" height="3.6" fill="#2255ee" stroke="#111" stroke-width="1.15"/>
<rect x="411.8" y="376.2" width="3.6" height="3.6" fill="#2255ee" stroke="#111" stroke-width="1.15"/>
<rect x="422.8" y="374" width="3.6" height="3.6" fill="#2255ee" stroke="#111" stroke-width="1.15"/>
<rect x="436.9" y="369.7" width="3.6" height="3.6" fill="#2255ee" stroke="#111" stroke-width="1.15"/>
<rect x="454.4" y="358.7" width="3.6" height="3.6" fill="#2255ee" stroke="#111" stroke-width="1.15"/>
<rect x="475" y="344.2" width="3.6" height="3.6" fill="#2255ee" stroke="#111" stroke-width="1.15"/>
<rect x="499.2" y="328.2" width="3.6" height="3.6" fill="#2255ee" stroke="#111" stroke-width="1.15"/>
<rect x="526" y="311.2" width="3.6" height="3.6" fill="#2255ee" stroke="#111" stroke-width="1.15"/>
<rect x="556.9" y="292.2" width="3.6" height="3.6" fill="#2255ee" stroke="#111" stroke-width="1.15"/>
<rect x="588.6" y="277.4" width="3.6" height="3.6" fill="#2255ee" stroke="#111" stroke-width="1.15"/>
<rect x="627.7" y="352.6" width="3.6" height="3.6" fill="#2255ee" stroke="#111" stroke-width="1.15"/>
<path d="M392.2,387.1 L394.7,389.6 L392.2,392.1 L389.7,389.6 Z" fill="#000" stroke="#000" stroke-width="1.15"/>
<path d="M393.6,382.8 L396.1,385.3 L393.6,387.8 L391.1,385.3 Z" fill="#000" stroke="#000" stroke-width="1.15"/>
<path d="M399.5,383.5 L402,386 L399.5,388.5 L397,386 Z" fill="#000" stroke="#000" stroke-width="1.15"/>
<path d="M405.3,382 L407.8,384.5 L405.3,387 L402.8,384.5 Z" fill="#000" stroke="#000" stroke-width="1.15"/>
<path d="M413.6,362.7 L416.1,365.2 L413.6,367.7 L411.1,365.2 Z" fill="#000" stroke="#000" stroke-width="1.15"/>
<path d="M424.6,370.4 L427.1,372.9 L424.6,375.4 L422.1,372.9 Z" fill="#000" stroke="#000" stroke-width="1.15"/>
<path d="M438.7,367.9 L441.2,370.4 L438.7,372.9 L436.2,370.4 Z" fill="#000" stroke="#000" stroke-width="1.15"/>
<path d="M456.2,358 L458.7,360.5 L456.2,363 L453.7,360.5 Z" fill="#000" stroke="#000" stroke-width="1.15"/>
<path d="M476.8,344.1 L479.3,346.6 L476.8,349.1 L474.3,346.6 Z" fill="#000" stroke="#000" stroke-width="1.15"/>
<path d="M501,328 L503.5,330.5 L501,333 L498.5,330.5 Z" fill="#000" stroke="#000" stroke-width="1.15"/>
<path d="M527.8,311.1 L530.3,313.6 L527.8,316.1 L525.3,313.6 Z" fill="#000" stroke="#000" stroke-width="1.15"/>
<path d="M558.7,291.8 L561.2,294.3 L558.7,296.8 L556.2,294.3 Z" fill="#000" stroke="#000" stroke-width="1.15"/>
<path d="M591.9,268.8 L594.4,271.3 L591.9,273.8 L589.4,271.3 Z" fill="#000" stroke="#000" stroke-width="1.15"/>
<path d="M628,253.2 L630.5,255.7 L628,258.2 L625.5,255.7 Z" fill="#000" stroke="#000" stroke-width="1.15"/>
<path d="M669.3,258.8 L671.8,261.3 L669.3,263.8 L666.8,261.3 Z" fill="#000" stroke="#000" stroke-width="1.15"/>
<path d="M393.1,229.8 H682.4 V390.6" fill="none" stroke="#444" stroke-width="1.3"/>
<path d="M393.1,229.8 V390.6 H682.4" fill="none" stroke="#333" stroke-width="1.25"/>
<path d="M389.6,390.6 H396.6 M390.1,386.01 H393.1 M390.1,381.41 H393.1 M390.1,376.82 H393.1 M390.1,372.22 H393.1 M389.6,367.63 H396.6 M390.1,363.03 H393.1 M390.1,358.44 H393.1 M390.1,353.85 H393.1 M390.1,349.25 H393.1 M389.6,344.66 H396.6 M390.1,340.06 H393.1 M390.1,335.47 H393.1 M390.1,330.87 H393.1 M390.1,326.28 H393.1 M389.6,321.69 H396.6 M390.1,317.09 H393.1 M390.1,312.5 H393.1 M390.1,307.9 H393.1 M390.1,303.31 H393.1 M389.6,298.71 H396.6 M390.1,294.12 H393.1 M390.1,289.53 H393.1 M390.1,284.93 H393.1 M390.1,280.34 H393.1 M389.6,275.74 H396.6 M390.1,271.15 H393.1 M390.1,266.55 H393.1 M390.1,261.96 H393.1 M390.1,257.37 H393.1 M389.6,252.77 H396.6 M390.1,248.18 H393.1 M390.1,243.58 H393.1 M390.1,238.99 H393.1 M390.1,234.39 H393.1 M389.6,229.8 H396.6 M393.1,387.6 V394.1 M400.33,390.6 V393.6 M407.56,390.6 V393.6 M414.8,390.6 V393.6 M422.03,390.6 V393.6 M429.26,387.6 V394.1 M436.5,390.6 V393.6 M443.73,390.6 V393.6 M450.96,390.6 V393.6 M458.19,390.6 V393.6 M465.43,387.6 V394.1 M472.66,390.6 V393.6 M479.89,390.6 V393.6 M487.12,390.6 V393.6 M494.36,390.6 V393.6 M501.59,387.6 V394.1 M508.82,390.6 V393.6 M516.05,390.6 V393.6 M523.28,390.6 V393.6 M530.52,390.6 V393.6 M537.75,387.6 V394.1 M544.98,390.6 V393.6 M552.22,390.6 V393.6 M559.45,390.6 V393.6 M566.68,390.6 V393.6 M573.91,387.6 V394.1 M581.14,390.6 V393.6 M588.38,390.6 V393.6 M595.61,390.6 V393.6 M602.84,390.6 V393.6 M610.08,387.6 V394.1 M617.31,390.6 V393.6 M624.54,390.6 V393.6 M631.77,390.6 V393.6 M639,390.6 V393.6 M646.24,387.6 V394.1 M653.47,390.6 V393.6 M660.7,390.6 V393.6 M667.93,390.6 V393.6 M675.17,390.6 V393.6 M682.4,387.6 V394.1" fill="none" stroke="#111" stroke-width="0.9"/>
<text x="383.1" y="394.5" text-anchor="end" font-size="11.4">0</text>
<text x="383.1" y="371.53" text-anchor="end" font-size="11.4">10</text>
<text x="383.1" y="348.56" text-anchor="end" font-size="11.4">20</text>
<text x="383.1" y="325.59" text-anchor="end" font-size="11.4">30</text>
<text x="383.1" y="302.61" text-anchor="end" font-size="11.4">40</text>
<text x="383.1" y="279.64" text-anchor="end" font-size="11.4">50</text>
<text x="383.1" y="256.67" text-anchor="end" font-size="11.4">60</text>
<text x="383.1" y="233.7" text-anchor="end" font-size="11.4">70</text>
<text x="393.1" y="407.8" text-anchor="middle" font-size="11.4">0</text>
<text x="429.26" y="407.8" text-anchor="middle" font-size="11.4">1</text>
<text x="465.43" y="407.8" text-anchor="middle" font-size="11.4">2</text>
<text x="501.59" y="407.8" text-anchor="middle" font-size="11.4">3</text>
<text x="537.75" y="407.8" text-anchor="middle" font-size="11.4">4</text>
<text x="573.91" y="407.8" text-anchor="middle" font-size="11.4">5</text>
<text x="610.08" y="407.8" text-anchor="middle" font-size="11.4">6</text>
<text x="646.24" y="407.8" text-anchor="middle" font-size="11.4">7</text>
<text x="682.4" y="407.8" text-anchor="middle" font-size="11.4">8</text>
<path d="M400.2,242.3 H419.6" stroke="#000000" stroke-width="1.5"/>
<circle cx="409.7" cy="242.3" r="2.64" fill="#00a550" stroke="#111" stroke-width="1.15"/>
<text x="421" y="246.5" font-size="11.6">S02 (t = 1 mm)</text>
<path d="M400.2,263.8 H419.6" stroke="#ff0000" stroke-width="1.5"/>
<rect x="407.63" y="261.73" width="4.14" height="4.14" fill="#2255ee" stroke="#111" stroke-width="1.15"/>
<text x="421" y="268" font-size="11.6">S06 (t = 1.4 mm)</text>
<path d="M400.2,285.2 H419.6" stroke="#3366ff" stroke-width="1.5"/>
<path d="M409.7,282.32 L412.57,285.2 L409.7,288.07 L406.82,285.2 Z" fill="#000" stroke="#000" stroke-width="1.15"/>
<text x="421" y="289.4" font-size="11.6">S08 (t = 1.8 mm)</text>
<text x="418.5" y="310.3" font-size="11.6">85 Shore - A ,<tspan dx="-1.1"> BP</tspan></text>
<text x="534.5" y="424.1" text-anchor="middle" font-size="11.65">Displacement (mm)</text>
<text transform="translate(364.3,309.4) rotate(-90)" text-anchor="middle" font-size="11.65">Force (kN)</text>
<text x="513.5" y="444" text-anchor="middle" font-size="15.0">(d)</text>
</g>
</svg>
</body></html>
